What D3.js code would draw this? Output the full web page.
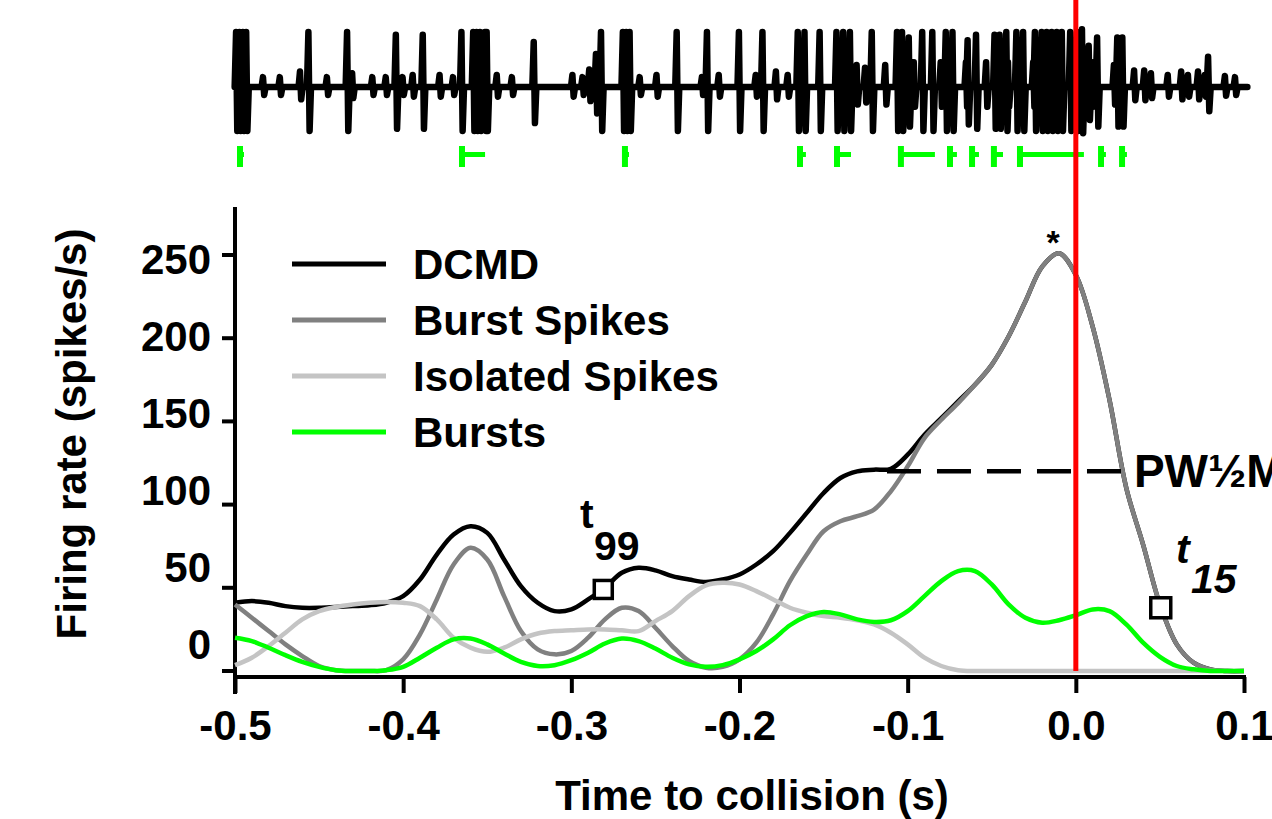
<!DOCTYPE html>
<html>
<head>
<meta charset="utf-8">
<script src="https://cdnjs.cloudflare.com/ajax/libs/d3/7.8.5/d3.min.js"></script>
<style>
  body { margin: 0; background: #fff; }
  svg { display: block; font-family: "Liberation Sans", Arial, sans-serif; font-weight: bold; }
</style>
</head>
<body>
<div id="chart"></div>
<script>
// time to collision (s), sampled every 10 ms
var timeGrid = [-0.50, -0.49, -0.48, -0.47, -0.46, -0.45, -0.44, -0.43, -0.42, -0.41,
   -0.40, -0.39, -0.38, -0.37, -0.36, -0.35, -0.34, -0.33, -0.32, -0.31,
   -0.30, -0.29, -0.28, -0.27, -0.26, -0.25, -0.24, -0.23, -0.22, -0.21,
   -0.20, -0.19, -0.18, -0.17, -0.16, -0.15, -0.14, -0.13, -0.12, -0.11,
   -0.10, -0.09, -0.08, -0.07, -0.06, -0.05, -0.04, -0.03, -0.02, -0.01,
   0.00, 0.01, 0.02, 0.03, 0.04, 0.05, 0.06, 0.07, 0.08, 0.09, 0.10];

// firing rates (spikes/s)
var dcmdRate = [41, 42, 41, 39, 38, 38, 38.5, 39, 39.5, 41,
   45, 55, 70, 82, 87, 83, 67, 51, 41, 36,
   37, 43, 50, 59, 62, 60.5, 57, 55, 53.5, 55,
   58, 64, 72, 83, 95, 107, 116, 120, 121, 121.5,
   130, 142, 152, 162, 172, 184, 201, 222, 243, 251,
   238, 207, 163, 110, 76, 40, 16, 5, 1, 0, 0];
var burstSpikeRate = [40, 32, 24, 16, 9, 3, 0.5, 0, 0, 0.5,
   7, 22, 43, 64, 74, 67, 45, 24, 13, 10,
   12, 20, 31, 38, 36, 26, 15, 6, 2, 2.5,
   7, 17, 34, 54, 70, 84, 90, 93, 97, 108,
   123, 140, 151, 161, 172, 184, 201, 222, 243, 251,
   238, 207, 163, 110, 76, 40, 16, 5, 1, 0, 0];
var isolatedSpikeRate = [3.5, 8, 15, 23, 31, 36, 38.5, 40, 41, 41.5,
   41, 39, 31, 20, 14, 11.5, 14, 19, 22.5, 24,
   24.5, 25, 25, 24.5, 24, 30, 36, 45, 51.5, 53,
   52, 48, 43, 38, 35, 33, 32, 30.5, 28, 23,
   16, 8, 3, 0.5, 0, 0, 0, 0, 0, 0,
   0, 0, 0, 0, 0, 0, 0, 0, 0, 0, 0];
var burstRate = [20, 18, 14, 9.5, 5.5, 2.5, 0.5, 0, 0, 0.5,
   2.5, 8, 14, 19, 19.5, 16, 10.5, 5.5, 3, 3.5,
   6.5, 11, 16.5, 19.5, 18, 13.5, 8, 4, 2.5, 3.5,
   7, 12, 19, 27.5, 33, 35.5, 34, 31, 29.5, 30.5,
   36, 45, 54, 60, 60, 52, 40, 32, 29, 30.5,
   33.5, 37, 36, 28, 17, 8.5, 3, 1, 0, 0, 0];

var seriesNames = ["DCMD", "Burst Spikes", "Isolated Spikes", "Bursts"];
var seriesColors = ["#000000", "#808080", "#c4c4c4", "#00ff00"];

var xTicks = [-0.5, -0.4, -0.3, -0.2, -0.1, 0.0, 0.1];
var yTicks = [0, 50, 100, 150, 200, 250];

// extracellular recording: spike times (s) and relative amplitudes
var spikeTimes = [-0.499, -0.497, -0.495, -0.493, -0.456, -0.433, -0.404, -0.388, -0.365,
   -0.358, -0.356, -0.354, -0.351, -0.350, -0.322, -0.285, -0.282, -0.269, -0.267, -0.265,
   -0.237, -0.219, -0.200, -0.186, -0.165, -0.161, -0.152, -0.142, -0.138, -0.134, -0.121,
   -0.106, -0.103, -0.099, -0.091, -0.085, -0.077, -0.073, -0.064, -0.059, -0.048, -0.045,
   -0.041, -0.035, -0.031, -0.024, -0.020, -0.017, -0.014, -0.011, -0.008, -0.003,
   0.001, 0.004, 0.008, 0.013, 0.025, 0.028, 0.079];
var spikeAmps = [1, 1, 1, 1, 1, 1, 0.95, 0.95, 1,
   1, 1, 1, 1, 1, 0.82, 0.6, 1, 1, 1, 1,
   1, 1, 1, 1, 1, 1, 1, 1, 1, 1, 1,
   1, 1, 0.9, 1, 1, 1, 1, 0.85, 0.95, 0.95, 0.95,
   1, 1, 1, 1, 1, 1, 1, 1, 1, 1,
   1, 1.05, 0.75, 0.9, 0.9, 0.9, 0.55];
var noiseTimes = [-0.483, -0.473, -0.461, -0.445, -0.430, -0.418, -0.410, -0.400, -0.394,
   -0.378, -0.370, -0.344, -0.335, -0.299, -0.293, -0.289, -0.259, -0.249, -0.222, -0.212,
   -0.190, -0.178, -0.171, -0.130, -0.125, -0.113, -0.096, -0.080, -0.065, -0.053, -0.040,
   -0.025, -0.014, 0.010, 0.023, 0.035, 0.041, 0.045, 0.055, 0.063, 0.067, 0.073, 0.077,
   0.089, 0.095];
var noiseAmps = [0.18, 0.18, 0.28, 0.18, 0.25, 0.18, 0.18, 0.18, 0.22,
   0.22, 0.18, 0.22, 0.18, 0.22, 0.18, 0.32, 0.18, 0.22, 0.18, 0.22,
   0.22, 0.28, 0.22, 0.4, 0.35, 0.4, 0.45, 0.45, 0.45, 0.45, 0.45,
   0.45, 0.45, 0.45, 0.4, 0.3, 0.3, 0.25, 0.22, 0.28, 0.22, 0.28, 0.22,
   0.2, 0.18];

// detected bursts (start, end in s)
var burstStarts = [-0.4988, -0.3668, -0.2699, -0.1658, -0.1438, -0.1058, -0.0766, -0.0635, -0.0505, -0.0350, 0.0132, 0.0257];
var burstEnds = [-0.4952, -0.3513, -0.2657, -0.1605, -0.1337, -0.0838, -0.0707, -0.0576, -0.0433, 0.0048, 0.0179, 0.0304];

// t99 / t15 markers and half-max width
var markerTimes = [-0.281, 0.0505];
var markerRates = [49, 38];
var halfWidthStart = -0.1123;
var halfWidthEnd = 0.0274;
var halfWidthRate = 120;
var peakTime = -0.0135;

function drawChart() {
   var width = 1272, height = 819;

   var svg = d3.select("#chart")
      .append("svg")
      .attr("width", width)
      .attr("height", height);

   var x = d3.scaleLinear().domain([-0.5, 0.1]).range([235, 1244]);
   var y = d3.scaleLinear().domain([0, 250]).range([671, 255]);
   var yLabelPos = d3.scaleLinear().domain([0, 250]).range([644, 259]);
   var yTrace = d3.scaleLinear().domain([-1, 1]).range([142, 32]);

   // ---- raw trace ----
   var events = spikeTimes.map(function(t, i) { return {t: t, a: spikeAmps[i]}; })
      .concat(noiseTimes.map(function(t, i) { return {t: t, a: noiseAmps[i]}; }))
      .sort(function(a, b) { return a.t - b.t; });

   var tracePts = [[-0.5, 0]];
   var d = 0.0012;
   events.forEach(function(e) {
      tracePts.push([e.t - d, 0], [e.t - d * 0.3, e.a], [e.t + d * 0.3, -0.8 * e.a], [e.t + d, 0]);
   });
   tracePts.push([0.102, 0]);

   svg.append("path")
      .attr("d", d3.line().x(function(p) { return x(p[0]); }).y(function(p) { return yTrace(p[1]); })(tracePts))
      .attr("fill", "none")
      .attr("stroke", "#000")
      .attr("stroke-width", 6.5)
      .attr("stroke-linejoin", "round")
      .attr("stroke-linecap", "round");

   // ---- burst markers ----
   var bursts = svg.append("g").attr("class", "bursts");
   burstStarts.forEach(function(s, i) {
      bursts.append("line")
         .attr("x1", x(s) + 3).attr("x2", x(s) + 3)
         .attr("y1", 146).attr("y2", 167)
         .attr("stroke", "#00ff00").attr("stroke-width", 6);
      bursts.append("line")
         .attr("x1", x(s) + 3).attr("x2", Math.max(x(burstEnds[i]), x(s) + 7))
         .attr("y1", 154.5).attr("y2", 154.5)
         .attr("stroke", "#00ff00").attr("stroke-width", 5);
   });

   // ---- axes ----
   svg.append("line")
      .attr("x1", 235).attr("x2", 235)
      .attr("y1", 207).attr("y2", 694)
      .attr("stroke", "#000").attr("stroke-width", 4);

   svg.selectAll(".ytick")
      .data(yTicks)
      .enter().append("line")
      .attr("class", "ytick")
      .attr("x1", 222).attr("x2", 235)
      .attr("y1", function(v) { return y(v); })
      .attr("y2", function(v) { return y(v); })
      .attr("stroke", "#000").attr("stroke-width", 4);

   svg.selectAll(".ylabel")
      .data(yTicks)
      .enter().append("text")
      .attr("class", "ylabel")
      .attr("x", 211)
      .attr("y", function(v) { return yLabelPos(v) + 15; })
      .attr("text-anchor", "end")
      .attr("font-size", 42)
      .text(function(v) { return v; });

   var xAxis = svg.append("g")
      .attr("transform", "translate(0,677)")
      .call(d3.axisBottom(x)
         .tickValues(xTicks)
         .tickSize(16)
         .tickSizeOuter(0)
         .tickFormat(function(v) { return v.toFixed(1); }));
   xAxis.select(".domain").attr("stroke-width", 4).attr("d", "M233,0H1246");
   xAxis.selectAll(".tick line").attr("stroke-width", 4);
   xAxis.selectAll(".tick text")
      .attr("y", 63).attr("dy", 0)
      .attr("font-size", 42)
      .attr("font-family", "'Liberation Sans', Arial, sans-serif")
      .attr("font-weight", "bold")
      .attr("fill", "#000");

   svg.append("text")
      .attr("x", 752).attr("y", 810)
      .attr("text-anchor", "middle")
      .attr("font-size", 42)
      .text("Time to collision (s)");

   svg.append("text")
      .attr("transform", "translate(86,434) rotate(-90)")
      .attr("text-anchor", "middle")
      .attr("font-size", 42)
      .text("Firing rate (spikes/s)");

   // ---- rate curves ----
   var rates = [dcmdRate, burstSpikeRate, isolatedSpikeRate, burstRate];
   var line = d3.line()
      .curve(d3.curveCatmullRom)
      .x(function(p) { return x(p[0]); })
      .y(function(p) { return y(p[1]); });

   svg.selectAll(".rate")
      .data(rates)
      .enter().append("path")
      .attr("class", "rate")
      .attr("d", function(r) { return line(timeGrid.map(function(t, i) { return [t, r[i]]; })); })
      .attr("fill", "none")
      .attr("stroke", function(r, i) { return seriesColors[i]; })
      .attr("stroke-width", 4.5)
      .attr("stroke-linejoin", "round");

   // ---- legend ----
   var legend = svg.selectAll(".legend")
      .data(seriesNames)
      .enter().append("g")
      .attr("class", "legend")
      .attr("transform", function(n, i) { return "translate(0," + (264 + i * 56) + ")"; });
   legend.append("line")
      .attr("x1", 292).attr("x2", 386)
      .attr("y1", 0).attr("y2", 0)
      .attr("stroke", function(n, i) { return seriesColors[i]; })
      .attr("stroke-width", 5);
   legend.append("text")
      .attr("x", 413).attr("y", 15)
      .attr("font-size", 42)
      .text(function(n) { return n; });

   // ---- half-max width ----
   svg.append("line")
      .attr("x1", x(halfWidthStart)).attr("x2", x(halfWidthEnd))
      .attr("y1", y(halfWidthRate)).attr("y2", y(halfWidthRate))
      .attr("stroke", "#000").attr("stroke-width", 4.5)
      .attr("stroke-dasharray", "34,16");
   svg.append("text")
      .attr("x", x(halfWidthEnd) + 12).attr("y", y(halfWidthRate) + 16)
      .attr("font-size", 46)
      .text("PW\u00BDM");

   svg.append("text")
      .attr("x", x(peakTime)).attr("y", 254)
      .attr("text-anchor", "middle")
      .attr("font-size", 34)
      .text("*");

   // ---- t99 / t15 markers ----
   var sizes = [18, 20];
   svg.selectAll(".marker")
      .data(markerTimes)
      .enter().append("rect")
      .attr("class", "marker")
      .attr("x", function(t, i) { return x(t) - sizes[i] / 2; })
      .attr("y", function(t, i) { return y(markerRates[i]) - sizes[i] / 2; })
      .attr("width", function(t, i) { return sizes[i]; })
      .attr("height", function(t, i) { return sizes[i]; })
      .attr("fill", "#fff")
      .attr("stroke", "#000")
      .attr("stroke-width", 3.5);

   svg.append("text").attr("x", 580).attr("y", 528).attr("font-size", 41).text("t");
   svg.append("text").attr("x", 594).attr("y", 560).attr("font-size", 41).text("99");
   svg.append("text").attr("x", 1176).attr("y", 563).attr("font-size", 41).attr("font-style", "italic").text("t");
   svg.append("text").attr("x", 1191).attr("y", 593).attr("font-size", 41).attr("font-style", "italic").text("15");

   // ---- collision time ----
   svg.append("line")
      .attr("x1", x(0)).attr("x2", x(0))
      .attr("y1", 0).attr("y2", y(0))
      .attr("stroke", "#ff0000").attr("stroke-width", 5);
}

drawChart();
</script>
</body>
</html>
